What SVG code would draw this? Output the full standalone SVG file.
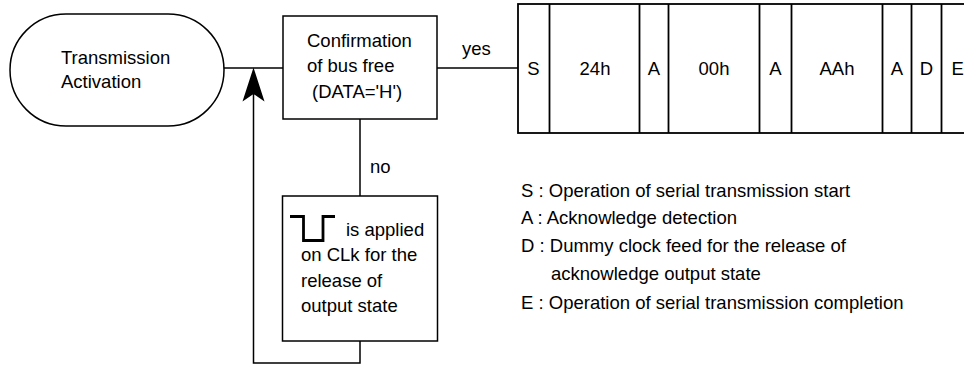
<svg xmlns="http://www.w3.org/2000/svg" width="964" height="367" viewBox="0 0 964 367">
<style>
.s{fill:none;stroke:#000;stroke-width:1.5}
.b{fill:#fff;stroke:#000;stroke-width:1.5}
.p{fill:none;stroke:#000;stroke-width:1.8}
text{font-family:"Liberation Sans",Arial,sans-serif;font-size:18.5px;fill:#000}
.m{text-anchor:middle}
</style>
<rect width="964" height="367" fill="#fff"/>
<g id="connectors">
<line class="s" x1="224" y1="68" x2="283" y2="68"/>
<line class="s" x1="437" y1="68" x2="518" y2="68"/>
<line class="s" x1="360" y1="119" x2="360" y2="196"/>
<polyline class="s" points="360,341 360,363 253.5,363 253.5,85"/>
<path d="M253.5,67.5 L264.5,101.5 L253.5,94 L242.5,101.5 Z" fill="#000"/>
<text x="462" y="55">yes</text>
<text x="370" y="173">no</text>
</g>
<g id="start">
<rect class="b" x="10" y="14" width="214" height="112" rx="56" ry="56"/>
<text x="61" y="64">Transmission</text>
<text x="61" y="88">Activation</text>
</g>
<g id="confirm">
<rect class="b" x="283" y="16" width="154" height="103"/>
<text x="307" y="47">Confirmation</text>
<text x="307" y="72">of bus free</text>
<text x="312" y="98">(DATA='H')</text>
</g>
<g id="release">
<rect class="b" x="282.5" y="196" width="155" height="145"/>
<polyline points="290,216.5 303.5,216.5 303.5,240.5 323,240.5 323,216.5 335,216.5" fill="none" stroke="#000" stroke-width="2.8"/>
<text x="346" y="236">is applied</text>
<text x="301" y="261">on CLk for the</text>
<text x="301" y="287">release of</text>
<text x="301" y="312">output state</text>
</g>
<g id="packet">
<rect class="b" x="518" y="4" width="460" height="129" style="stroke-width:1.8"/>
<line class="p" x1="549.5" y1="4" x2="549.5" y2="133"/>
<line class="p" x1="639.5" y1="4" x2="639.5" y2="133"/>
<line class="p" x1="668.5" y1="4" x2="668.5" y2="133"/>
<line class="p" x1="759.5" y1="4" x2="759.5" y2="133"/>
<line class="p" x1="791.5" y1="4" x2="791.5" y2="133"/>
<line class="p" x1="882.5" y1="4" x2="882.5" y2="133"/>
<line class="p" x1="911.5" y1="4" x2="911.5" y2="133"/>
<line class="p" x1="941.5" y1="4" x2="941.5" y2="133"/>
<text class="m" x="533.5" y="75">S</text>
<text class="m" x="595" y="75">24h</text>
<text class="m" x="654" y="75">A</text>
<text class="m" x="714" y="75">00h</text>
<text class="m" x="775.5" y="75">A</text>
<text class="m" x="837" y="75">AAh</text>
<text class="m" x="897" y="75">A</text>
<text class="m" x="926.5" y="75">D</text>
<text x="951.5" y="75">E</text>
</g>
<g id="legend">
<text x="521" y="197">S : Operation of serial transmission start</text>
<text x="521" y="224">A : Acknowledge detection</text>
<text x="521" y="252">D : Dummy clock feed for the release of</text>
<text x="551" y="280">acknowledge output state</text>
<text x="521" y="309">E : Operation of serial transmission completion</text>
</g>
</svg>
